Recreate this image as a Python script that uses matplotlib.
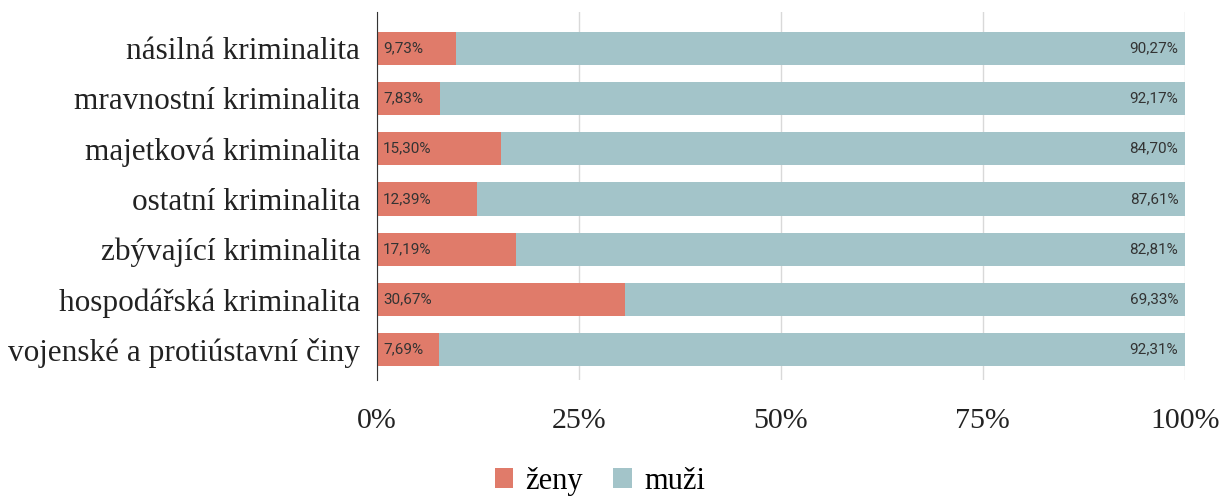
import matplotlib.pyplot as plt
import numpy as np

kategorie = ['násilná kriminalita', 'mravnostní kriminalita', 'majetková kriminalita',
             'ostatní kriminalita', 'zbývající kriminalita', 'hospodářská kriminalita',
             'vojenské a protiústavní činy']
zeny = [9.73, 7.83, 15.30, 12.39, 17.19, 30.67, 7.69]
muzi = [90.27, 92.17, 84.70, 87.61, 82.81, 69.33, 92.31]

c_zeny = '#e07b6a'
c_muzi = '#a3c4c9'

fig = plt.figure(figsize=(12.24, 4.96), dpi=100)
ax = fig.add_axes([0.308, 0.234, 0.66, 0.742])

y = np.arange(len(kategorie))
ax.barh(y, zeny, height=0.66, color=c_zeny, label='ženy', zorder=2)
ax.barh(y, muzi, left=zeny, height=0.66, color=c_muzi, label='muži', zorder=2)

# popisky hodnot
for i in range(len(kategorie)):
    ax.text(0.75, y[i], f'{zeny[i]:.2f}%'.replace('.', ','), va='center', ha='left',
            fontsize=11, color='#333333', family='Roboto', zorder=3)
    ax.text(99.2, y[i], f'{muzi[i]:.2f}%'.replace('.', ','), va='center', ha='right',
            fontsize=11, color='#333333', family='Roboto', zorder=3)

ax.set_xlim(0, 100)
ax.set_ylim(6.6, -0.72)
ax.set_yticks(y)
ax.set_yticklabels(kategorie, family='Liberation Serif', fontsize=22.5, color='#222222')
ax.set_xticks([0, 25, 50, 75, 100])
ax.set_xticklabels(['0%', '25%', '50%', '75%', '100%'], family='Liberation Serif',
                   fontsize=21.5, color='#222222')
ax.tick_params(axis='y', length=0, pad=12)
ax.tick_params(axis='x', length=0, pad=20)

ax.grid(axis='x', color='#d9d9d9', linewidth=1, zorder=0)
for s in ['top', 'right', 'bottom']:
    ax.spines[s].set_visible(False)
ax.spines['left'].set_color('#333333')
ax.spines['left'].set_zorder(4)

h, l = ax.get_legend_handles_labels()
fig.legend(h, l, loc='center', bbox_to_anchor=(0.49, 0.03), ncol=2, frameon=False,
           prop={'family': 'Liberation Serif', 'size': 22}, handlelength=0.6,
           handleheight=0.6, handletextpad=0.4, columnspacing=1.0)

fig.savefig('out.png', dpi=100)
